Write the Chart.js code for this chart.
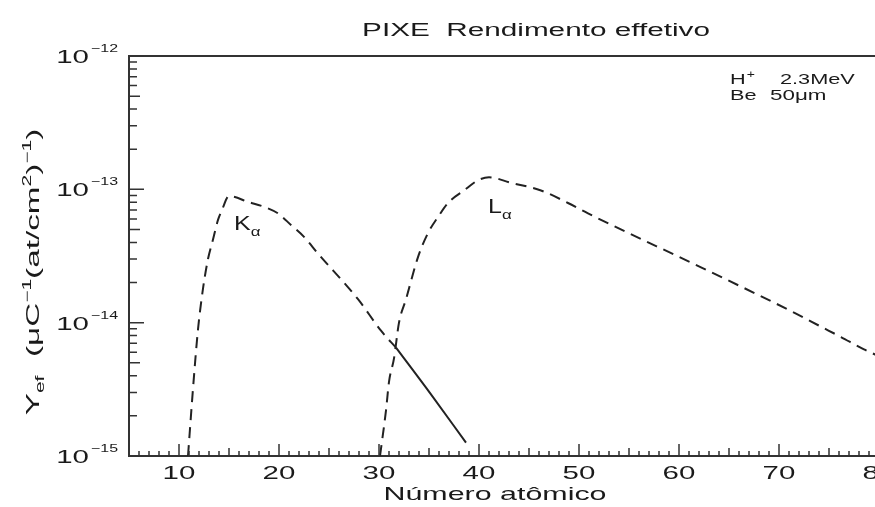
<!DOCTYPE html>
<html>
<head>
<meta charset="utf-8">
<script src="https://cdn.jsdelivr.net/npm/chart.js@4.4.1/dist/chart.umd.min.js"></script>
<style>
    html, body { margin: 0; padding: 0; background: #fff; overflow: hidden; }
    #wrap { width: 905px; height: 507px; }
</style>
</head>
<body>
<div id="wrap"><canvas id="pixeChart" width="905" height="507"></canvas></div>
<script>
// Curva K-alfa (tracejada até o cruzamento, depois contínua)
const kaZ = [10.9, 11.4, 11.9, 12.4, 12.9, 13.4, 13.9, 14.3, 15.0, 17.0, 18.5, 19.9, 21.2, 22.5, 23.9, 27.9, 30.2, 31.7];
const kaY = [1.0e-15, 3.2e-15, 8.9e-15, 1.8e-14, 3.0e-14, 4.2e-14, 5.9e-14, 7.0e-14, 8.9e-14, 8.0e-14, 7.4e-14, 6.6e-14, 5.4e-14, 4.4e-14, 3.3e-14, 1.5e-14, 8.7e-15, 6.5e-15];
const kaSolidZ = [31.7, 35.2, 38.7];
const kaSolidY = [6.5e-15, 2.9e-15, 1.26e-15];

// Curva L-alfa
const laZ = [30.1, 30.7, 31.0, 31.5, 32.0, 32.7, 33.9, 34.9, 35.9, 36.9, 38.5, 39.9, 41.0, 43.2, 46.2, 48.9, 50.9, 62.2, 71.7, 74.0, 76.2, 78.5, 80.0];
const laY = [1.0e-15, 2.2e-15, 3.6e-15, 5.4e-15, 1.0e-14, 1.5e-14, 3.1e-14, 4.7e-14, 6.2e-14, 7.9e-14, 9.8e-14, 1.17e-13, 1.23e-13, 1.12e-13, 9.8e-14, 7.9e-14, 6.6e-14, 2.6e-14, 1.17e-14, 9.5e-15, 7.8e-15, 6.3e-15, 5.6e-15];

// Rótulos dos eixos
const xTicks = [10, 20, 30, 40, 50, 60, 70, 80];
const yTicks = [1e-15, 1e-14, 1e-13, 1e-12];
const yTickExp = ['\u221215', '\u221214', '\u221213', '\u221212'];

const FONT = '"Liberation Sans", Arial, sans-serif';
const INK = '#1a1a1a';

function pts(xs, ys) {
    return xs.map(function (x, i) { return { x: x, y: ys[i] }; });
}

// texto "largo", como no original
function wide(ctx, s, x, y, size, k, align) {
    ctx.save();
    ctx.font = size + 'px ' + FONT;
    const w = ctx.measureText(s).width * k;
    let x0 = x;
    if (align === 'center') x0 = x - w / 2;
    if (align === 'right') x0 = x - w;
    ctx.translate(x0, y);
    ctx.scale(k, 1);
    ctx.textAlign = 'left';
    ctx.textBaseline = 'alphabetic';
    ctx.fillText(s, 0, 0);
    ctx.restore();
    return w;
}

function measure(ctx, s, size, k) {
    ctx.font = size + 'px ' + FONT;
    return ctx.measureText(s).width * k;
}

const decor = {
    id: 'decor',
    afterDraw(chart) {
        const ctx = chart.ctx;
        const a = chart.chartArea;
        const xs = chart.scales.x;
        const ys = chart.scales.y;
        ctx.save();
        ctx.fillStyle = INK;
        ctx.strokeStyle = '#333';

        // moldura superior
        ctx.lineWidth = 2;
        ctx.beginPath();
        ctx.moveTo(a.left, a.top);
        ctx.lineTo(a.right, a.top);
        ctx.stroke();

        // marcas do eixo y (para dentro)
        ctx.lineWidth = 1.5;
        ctx.beginPath();
        for (let e = -15; e <= -13; e++) {
            for (let m = 1; m <= 9; m++) {
                const py = ys.getPixelForValue(m * Math.pow(10, e));
                const len = m === 1 ? 15 : (m === 5 ? 11 : 8);
                ctx.moveTo(a.left, py);
                ctx.lineTo(a.left + len, py);
            }
        }
        const pTop = ys.getPixelForValue(1e-12);
        ctx.moveTo(a.left, pTop);
        ctx.lineTo(a.left + 15, pTop);
        // marcas do eixo x
        for (let z = 6; z <= 82; z++) {
            const px = xs.getPixelForValue(z);
            const len = z % 10 === 0 ? 12 : (z % 5 === 0 ? 8 : 5);
            ctx.moveTo(px, a.bottom);
            ctx.lineTo(px, a.bottom - len);
        }
        ctx.stroke();

        // rótulos x
        xTicks.forEach(function (v) {
            wide(ctx, String(v), xs.getPixelForValue(v), 479, 19, 1.55, 'center');
        });

        // rótulos y: 10 com expoente
        yTicks.forEach(function (v, i) {
            const py = ys.getPixelForValue(v);
            wide(ctx, '10', 89, py + 7, 19, 1.55, 'right');
            wide(ctx, yTickExp[i], 91, py - 4, 11, 1.45, 'left');
        });

        // título
        wide(ctx, 'PIXE  Rendimento effetivo', 536, 36, 18, 1.65, 'center');

        // título do eixo x
        wide(ctx, 'Número atômico', 495, 500, 19, 1.6, 'center');

        // título do eixo y (rotacionado)
        const parts = [
            ['Y', 19, 0], ['ef', 12, 5], ['  (', 19, 0], ['\u03bcC', 19, 0], ['\u22121', 12, -8],
            ['(at/cm', 19, 0], ['2', 12, -8], [')', 19, 0], ['\u22121', 12, -8], [')', 19, 0]
        ];
        const kY = 1.75;
        let total = 0;
        parts.forEach(function (p) { total += measure(ctx, p[0], p[1], kY); });
        ctx.save();
        ctx.translate(32, 272);
        ctx.rotate(-Math.PI / 2);
        let off = -total / 2;
        parts.forEach(function (p) {
            off += wide(ctx, p[0], off, 7 + p[2], p[1], kY, 'left');
        });
        ctx.restore();

        // anotações
        let w = wide(ctx, 'H', 730, 84, 14, 1.55, 'left');
        wide(ctx, '+', 730 + w + 1, 78, 10, 1.4, 'left');
        wide(ctx, '2.3MeV', 780, 84, 14, 1.55, 'left');
        wide(ctx, 'Be', 730, 100, 14, 1.55, 'left');
        wide(ctx, '50\u03bcm', 770, 100, 14, 1.6, 'left');

        // K-alfa e L-alfa
        w = wide(ctx, 'K', 234, 230, 20, 1.25, 'left');
        wide(ctx, '\u03b1', 234 + w, 236, 13, 1.3, 'left');
        w = wide(ctx, 'L', 488, 213, 20, 1.25, 'left');
        wide(ctx, '\u03b1', 488 + w, 219, 13, 1.3, 'left');

        ctx.restore();
    }
};

const lineStyle = {
    borderColor: '#222',
    borderWidth: 2,
    pointRadius: 0,
    fill: false,
    cubicInterpolationMode: 'monotone'
};

new Chart(document.getElementById('pixeChart').getContext('2d'), {
    type: 'line',
    data: {
        datasets: [
            Object.assign({ label: 'K\u03b1', data: pts(kaZ, kaY), borderDash: [11, 7] }, lineStyle),
            Object.assign({ label: 'K\u03b1 (cont.)', data: pts(kaSolidZ, kaSolidY) }, lineStyle),
            Object.assign({ label: 'L\u03b1', data: pts(laZ, laY), borderDash: [11, 7] }, lineStyle)
        ]
    },
    options: {
        responsive: false,
        animation: false,
        layout: { padding: { top: 56, left: 0, right: 6, bottom: 0 } },
        plugins: {
            legend: { display: false },
            tooltip: { enabled: false },
            title: { display: false }
        },
        scales: {
            x: {
                type: 'linear',
                min: 5,
                max: 82,
                grid: { display: false },
                border: { display: true, color: '#333', width: 2 },
                ticks: { display: false },
                afterFit: function (s) { s.height = 51; }
            },
            y: {
                type: 'logarithmic',
                min: 1e-15,
                max: 1e-12,
                grid: { display: false },
                border: { display: true, color: '#333', width: 2 },
                ticks: { display: false },
                afterFit: function (s) { s.width = 129; }
            }
        }
    },
    plugins: [decor]
});
</script>
</body>
</html>
